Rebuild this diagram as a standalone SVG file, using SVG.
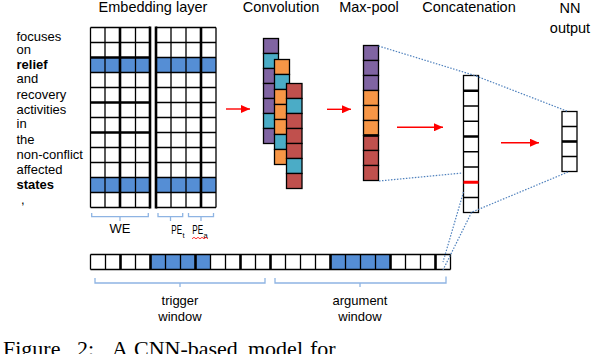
<svg xmlns="http://www.w3.org/2000/svg" width="604" height="354" viewBox="0 0 604 354">
<style>
.t{font-family:"Liberation Sans",Arial,sans-serif;fill:#000}
.title{font-size:14.5px;text-anchor:middle}
.w{font-size:13px}
.b{font-weight:bold}
.thin{fill:none;stroke:#000;stroke-width:1.3}
.thick{fill:none;stroke:#000;stroke-width:2.6}
.blue{fill:#558ED5}
.pu{fill:#8064A2;stroke:#000;stroke-width:1.3}
.cy{fill:#4BACC6;stroke:#000;stroke-width:1.3}
.or{fill:#F79646;stroke:#000;stroke-width:1.3}
.rd{fill:#C0504D;stroke:#000;stroke-width:1.3}
.wc{fill:#fff;stroke:#000;stroke-width:1.3}
.brace{fill:none;stroke:#8EB4E3;stroke-width:1.3}
.dot{fill:none;stroke:#4F81BD;stroke-width:1.2;stroke-dasharray:1.5 1.5}
.arr{fill:none;stroke:#FF0000;stroke-width:1.4;marker-end:url(#ah)}
</style>
<defs>
<marker id="ah" markerUnits="userSpaceOnUse" markerWidth="10" markerHeight="8" refX="9" refY="4" orient="auto">
<path d="M0,0 L9,4 L0,8 Z" fill="#FF0000"/>
</marker>
</defs>
<rect width="604" height="354" fill="#fff"/>

<g id="titles">
<text class="t title" x="153" y="12">Embedding layer</text>
<text class="t title" x="281" y="12">Convolution</text>
<text class="t title" x="369" y="12">Max-pool</text>
<text class="t title" x="469" y="12">Concatenation</text>
<text class="t title" x="570" y="13">NN</text>
<text class="t title" x="570" y="33">output</text>
</g>

<g id="sentence">
<text class="t w" x="16.5" y="41">focuses</text>
<text class="t w" x="16.5" y="54.3">on</text>
<text class="t w b" x="16.5" y="68.7">relief</text>
<text class="t w" x="16.5" y="83.3">and</text>
<text class="t w" x="16.5" y="98.7">recovery</text>
<text class="t w" x="16.5" y="113.7">activities</text>
<text class="t w" x="16.5" y="128">in</text>
<text class="t w" x="16.5" y="144">the</text>
<text class="t w" x="16.5" y="159">non-conflict</text>
<text class="t w" x="16.5" y="174">affected</text>
<text class="t w b" x="16.5" y="189">states</text>
<text class="t w" x="21" y="203.5">,</text>
</g>

<g id="we-grid">
<rect class="blue" x="90.5" y="57.5" width="59.5" height="15"/>
<rect class="blue" x="90.5" y="177.5" width="59.5" height="15"/>
<path class="thin" d="M90.5 27.5V207.5M105 27.5V207.5M135.5 27.5V207.5M90.5 27.5H150M90.5 42.5H150M90.5 72.5H150M90.5 87.5H150M90.5 117.5H150M90.5 147.5H150M90.5 162.5H150M90.5 177.5H150M90.5 192.5H150M90.5 207.5H150"/>
<path class="thick" d="M120 27.5V207.5M150 26.5V208.5M90.5 57.5H150M90.5 102.5H150M90.5 132.5H150"/>
</g>

<g id="pe-grid">
<rect class="blue" x="156" y="57.5" width="60" height="15"/>
<rect class="blue" x="156" y="177.5" width="60" height="15"/>
<path class="thin" d="M171 27.5V207.5M186 27.5V207.5M216 27.5V207.5M156 27.5H216M156 42.5H216M156 57.5H216M156 72.5H216M156 87.5H216M156 102.5H216M156 117.5H216M156 132.5H216M156 147.5H216M156 162.5H216M156 177.5H216M156 192.5H216M156 207.5H216"/>
<path class="thick" d="M156 26.5V208.5M201 27.5V207.5"/>
</g>

<g id="grid-labels">
<path class="brace" d="M91.7 213V216.7H148.3V213M120 216.7V221"/>
<path class="brace" d="M158 213V216.7H182.7V213M170.5 216.7V221"/>
<path class="brace" d="M188.5 213V216.7H213.5V213M201 216.7V221"/>
<text class="t w" x="120" y="233.3" text-anchor="middle">WE</text>
<text class="t" font-size="13" x="171.3" y="234.3" textLength="10.8" lengthAdjust="spacingAndGlyphs">PE</text>
<text class="t" font-size="7.5" x="182.6" y="237.5">t</text>
<text class="t" font-size="13" x="192.3" y="234.3" textLength="10.8" lengthAdjust="spacingAndGlyphs">PE</text>
<text class="t" font-size="7.5" x="203.6" y="237.5">a</text>
<path d="M192 238.8l2 -1.5l2 1.5l2 -1.5l2 1.5l2 -1.5l2 1.5l2 -1.5l2 1.5" fill="none" stroke="#FF0000" stroke-width="0.8"/>
</g>

<g id="convolution">
<rect class="pu" x="263.5" y="38.5" width="15" height="15"/>
<rect class="cy" x="263.5" y="53.5" width="15" height="15"/>
<rect class="pu" x="263.5" y="68.5" width="15" height="15"/>
<rect class="pu" x="263.5" y="83.5" width="15" height="15"/>
<rect class="pu" x="263.5" y="98.5" width="15" height="15"/>
<rect class="cy" x="263.5" y="113.5" width="15" height="15"/>
<rect class="pu" x="263.5" y="128.5" width="15" height="15"/>
<rect class="or" x="274.5" y="59.5" width="15" height="15"/>
<rect class="cy" x="274.5" y="74.5" width="15" height="15"/>
<rect class="or" x="274.5" y="89.5" width="15" height="15"/>
<rect class="or" x="274.5" y="104.5" width="15" height="15"/>
<rect class="or" x="274.5" y="119.5" width="15" height="15"/>
<rect class="cy" x="274.5" y="134.5" width="15" height="15"/>
<rect class="or" x="274.5" y="149.5" width="15" height="15"/>
<rect class="rd" x="286.5" y="83.5" width="15.5" height="15"/>
<rect class="cy" x="286.5" y="98.5" width="15.5" height="15"/>
<rect class="rd" x="286.5" y="113.5" width="15.5" height="15"/>
<rect class="rd" x="286.5" y="128.5" width="15.5" height="15"/>
<rect class="rd" x="286.5" y="143.5" width="15.5" height="15"/>
<rect class="cy" x="286.5" y="158.5" width="15.5" height="15"/>
<rect class="rd" x="286.5" y="173.5" width="15.5" height="15"/>
</g>

<g id="max-pool">
<rect class="pu" x="363.5" y="45.5" width="15" height="15"/>
<rect class="pu" x="363.5" y="60.5" width="15" height="15"/>
<rect class="pu" x="363.5" y="75.5" width="15" height="15"/>
<rect class="or" x="363.5" y="90.5" width="15" height="15"/>
<rect class="or" x="363.5" y="105.5" width="15" height="15"/>
<rect class="or" x="363.5" y="120.5" width="15" height="15"/>
<rect class="rd" x="363.5" y="135.5" width="15" height="15"/>
<rect class="rd" x="363.5" y="150.5" width="15" height="15"/>
<rect class="rd" x="363.5" y="165.5" width="15" height="15"/>
<path class="thick" d="M363.5 135.5H378.5" stroke-width="2"/>
</g>

<g id="concatenation">
<rect class="wc" x="463.5" y="75.5" width="15" height="137"/>
<path class="thin" d="M463.5 106H478.5M463.5 121.25H478.5M463.5 151.75H478.5M463.5 167H478.5M463.5 197.5H478.5"/>
<path class="thick" d="M463.5 90.75H478.5M463.5 136.5H478.5"/>
<path d="M463.5 182.25H478.5" stroke="#FF0000" stroke-width="3"/>
</g>

<g id="nn-output">
<rect class="wc" x="562" y="111.5" width="15" height="60"/>
<path class="thin" d="M562 126.5H577M562 156.5H577"/>
<path class="thick" d="M562 141.5H577"/>
</g>

<g id="sequence">
<rect class="blue" x="150.5" y="254.5" width="60" height="15"/>
<rect class="blue" x="330.5" y="254.5" width="60" height="15"/>
<path class="thin" d="M90.5 254.5H450.5M90.5 269.5H450.5M90.5 254.5V269.5M105.5 254.5V269.5M135.5 254.5V269.5M165.5 254.5V269.5M180.5 254.5V269.5M210.5 254.5V269.5M225.5 254.5V269.5M255.5 254.5V269.5M285.5 254.5V269.5M300.5 254.5V269.5M315.5 254.5V269.5M345.5 254.5V269.5M360.5 254.5V269.5M375.5 254.5V269.5M405.5 254.5V269.5M420.5 254.5V269.5M450.5 254.5V269.5"/>
<path class="thick" d="M120.5 254.5V269.5M150.5 254.5V269.5M195.5 254.5V269.5M240.5 254.5V269.5M270.5 254.5V269.5M330.5 254.5V269.5M390.5 254.5V269.5M435.5 254.5V269.5" stroke-width="2"/>
</g>

<g id="windows">
<path class="brace" d="M95 278V283H265V278M180 283V287"/>
<path class="brace" d="M275 278V283H446V276.5M360 283V287"/>
<text class="t w" x="180" y="305" text-anchor="middle">trigger</text>
<text class="t w" x="180" y="321" text-anchor="middle">window</text>
<text class="t w" x="360" y="305" text-anchor="middle">argument</text>
<text class="t w" x="360" y="321" text-anchor="middle">window</text>
</g>

<g id="connectors">
<line class="arr" x1="226" y1="109" x2="250" y2="109"/>
<line class="arr" x1="327" y1="109.3" x2="351" y2="109.3"/>
<line class="arr" x1="397" y1="127.3" x2="443" y2="127.3"/>
<line class="arr" x1="501" y1="142.7" x2="539" y2="142.7"/>
<path class="dot" d="M378.5 46L478 76.5"/>
<path class="dot" d="M476 76L568 111.5"/>
<path class="dot" d="M379 181L462.5 173"/>
<path class="dot" d="M568 172L471 212.5"/>
<path class="dot" d="M463.5 192L443 262"/>
<path class="dot" d="M471.5 212.5L443 270"/>
</g>

<g id="caption">
<text font-family="'Liberation Serif','Times New Roman',serif" font-size="22" y="356"><tspan x="3">Figure</tspan><tspan x="77">2:</tspan><tspan x="112">A</tspan><tspan x="134">CNN-based</tspan><tspan x="248">model</tspan><tspan x="310">for</tspan></text>
</g>
</svg>
